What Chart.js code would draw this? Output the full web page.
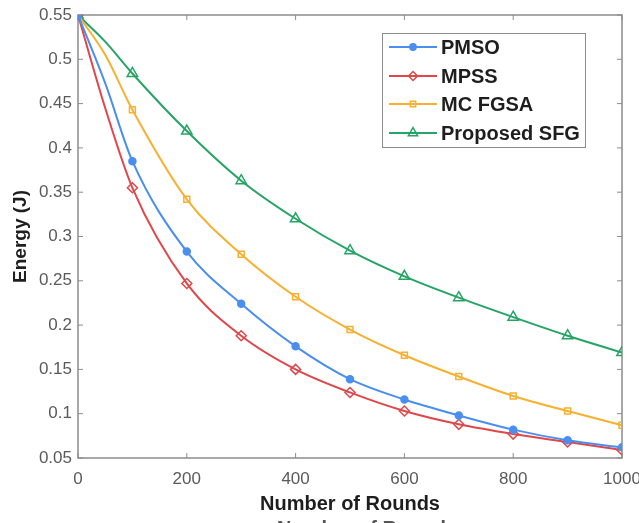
<!DOCTYPE html>
<html>
<head>
<meta charset="utf-8">
<script src="https://cdn.jsdelivr.net/npm/chart.js@4.4.1/dist/chart.umd.min.js"></script>
<style>
html,body{margin:0;padding:0;background:#fff;}
#wrap{width:639px;height:523px;position:relative;}
</style>
</head>
<body>
<div id="wrap"><canvas id="c" width="639" height="523"></canvas></div>
<script>
// ---- data ----
const rounds = [0, 50, 100, 200, 300, 400, 500, 600, 700, 800, 900, 1000];
const pmso   = [0.55, 0.473, 0.385, 0.283, 0.224, 0.176, 0.139, 0.116, 0.098, 0.082, 0.070, 0.062];
const mpss   = [0.55, 0.445, 0.355, 0.247, 0.188, 0.150, 0.124, 0.103, 0.088, 0.077, 0.068, 0.059];
const mcfgsa = [0.55, 0.505, 0.443, 0.342, 0.280, 0.232, 0.195, 0.166, 0.142, 0.120, 0.103, 0.087];
const sfg    = [0.55, 0.520, 0.484, 0.419, 0.363, 0.320, 0.284, 0.255, 0.231, 0.209, 0.188, 0.169];
const seriesNames = ['PMSO', 'MPSS', 'MC FGSA', 'Proposed SFG'];
const xTickLabels = ['0', '200', '400', '600', '800', '1000'];
const yTickLabels = ['0.05', '0.1', '0.15', '0.2', '0.25', '0.3', '0.35', '0.4', '0.45', '0.5', '0.55'];
const xTitle = 'Number of Rounds';
const yTitle = 'Energy (J)';

const toPts = arr => rounds.map((r, i) => ({x: r, y: arr[i]}));
const radiusFor = r => rounds.map(x => (x % 100 === 0 ? r : 0));

const FONT = '"Liberation Sans", Arial, sans-serif';
const styles = [
  {color: '#4a8ff0', style: 'circle',   radius: 3.5, fill: true},
  {color: '#e0474a', style: 'rectRot',  radius: 5,   fill: false},
  {color: '#f7b030', style: 'rect',     radius: 4.2, fill: false},
  {color: '#26a466', style: 'triangle', radius: 6,   fill: false}
];
const values = [pmso, mpss, mcfgsa, sfg];

const datasets = values.map((v, i) => ({
  label: seriesNames[i],
  data: toPts(v),
  borderColor: styles[i].color,
  backgroundColor: styles[i].fill ? styles[i].color : 'rgba(255,255,255,0)',
  pointBorderColor: styles[i].color,
  pointBackgroundColor: styles[i].fill ? styles[i].color : 'rgba(255,255,255,0)',
  pointStyle: styles[i].style,
  pointRadius: radiusFor(styles[i].radius),
  pointBorderWidth: 1.5,
  borderWidth: 2,
  cubicInterpolationMode: 'monotone',
  fill: false
}));

const AREA = {left: 78, right: 622, top: 15, bottom: 458};

const framePlugin = {
  id: 'frame',
  beforeDatasetsDraw(chart) {
    const ctx = chart.ctx, a = chart.chartArea;
    const xs = chart.scales.x, ys = chart.scales.y;
    ctx.save();
    ctx.strokeStyle = '#8c8c8c';
    ctx.lineWidth = 1.5;
    ctx.strokeRect(a.left, a.top, a.right - a.left, a.bottom - a.top);
    ctx.lineWidth = 1;
    const tl = 5;
    xs.ticks.forEach(t => {
      const px = xs.getPixelForValue(t.value);
      ctx.beginPath();
      ctx.moveTo(px, a.bottom); ctx.lineTo(px, a.bottom - tl);
      ctx.moveTo(px, a.top); ctx.lineTo(px, a.top + tl);
      ctx.stroke();
    });
    ys.ticks.forEach(t => {
      const py = ys.getPixelForValue(t.value);
      ctx.beginPath();
      ctx.moveTo(a.left, py); ctx.lineTo(a.left + tl, py);
      ctx.moveTo(a.right, py); ctx.lineTo(a.right - tl, py);
      ctx.stroke();
    });
    ctx.restore();
  },
  afterDraw(chart) {
    const ctx = chart.ctx;
    ctx.save();
    // legend box
    const bx = 382, by = 33, bw = 203, bh = 114;
    ctx.fillStyle = '#fff';
    ctx.fillRect(bx, by, bw, bh);
    ctx.strokeStyle = '#8c8c8c';
    ctx.lineWidth = 1;
    ctx.strokeRect(bx + 0.5, by + 0.5, bw, bh);
    const rowY = [47, 76, 104, 133];
    chart.data.datasets.forEach((ds, i) => {
      const y = rowY[i];
      ctx.strokeStyle = ds.borderColor;
      ctx.lineWidth = 2;
      ctx.beginPath();
      ctx.moveTo(389, y); ctx.lineTo(437, y);
      ctx.stroke();
      ctx.lineWidth = 1.5;
      ctx.fillStyle = ds.pointBackgroundColor;
      ctx.strokeStyle = ds.pointBorderColor;
      Chart.helpers.drawPoint(ctx, {pointStyle: ds.pointStyle, radius: styles[i].radius * 0.9, rotation: 0, borderWidth: 1.5}, 413, y);
      ctx.fillStyle = '#1e1e1e';
      ctx.font = 'bold 20px ' + FONT;
      ctx.textBaseline = 'middle';
      ctx.textAlign = 'left';
      ctx.fillText(ds.label, 441, y + 1);
    });
    // cut-off duplicate of the x title at the very bottom edge (artifact in the reference)
    ctx.fillStyle = '#555';
    ctx.font = 'bold 20px ' + FONT;
    ctx.textAlign = 'center';
    ctx.textBaseline = 'alphabetic';
    ctx.fillText(xTitle, 367, 535);
    ctx.restore();
  }
};

new Chart(document.getElementById('c'), {
  type: 'line',
  data: {datasets},
  options: {
    responsive: false,
    animation: false,
    devicePixelRatio: 1,
    layout: {padding: {left: 0, top: AREA.top, right: 639 - AREA.right, bottom: 0}},
    plugins: {legend: {display: false}, tooltip: {enabled: false}},
    scales: {
      x: {
        type: 'linear', min: 0, max: 1000,
        grid: {display: false, tickLength: 0},
        border: {display: false},
        ticks: {
          stepSize: 200, padding: 11, color: '#5a5a5a', maxRotation: 0,
          font: {size: 17, family: FONT},
          callback: (v, i) => xTickLabels[i]
        },
        title: {
          display: true, text: xTitle, color: '#1e1e1e',
          font: {size: 20, weight: 'bold', family: FONT},
          padding: {top: 0, bottom: 7}
        },
        afterFit: s => { s.height = 523 - AREA.bottom; s.paddingLeft = 0; s.paddingRight = 0; }
      },
      y: {
        type: 'linear', min: 0.05, max: 0.55,
        grid: {display: false, tickLength: 0},
        border: {display: false},
        ticks: {
          stepSize: 0.05, padding: 6, color: '#5a5a5a',
          font: {size: 17, family: FONT},
          callback: (v, i) => yTickLabels[i]
        },
        title: {
          display: true, text: yTitle, color: '#1e1e1e',
          font: {size: 19, weight: 'bold', family: FONT},
          padding: {top: 9, bottom: 0}
        },
        afterFit: s => { s.width = AREA.left; s.paddingTop = 0; s.paddingBottom = 0; }
      }
    }
  },
  plugins: [framePlugin]
});
</script>
</body>
</html>
